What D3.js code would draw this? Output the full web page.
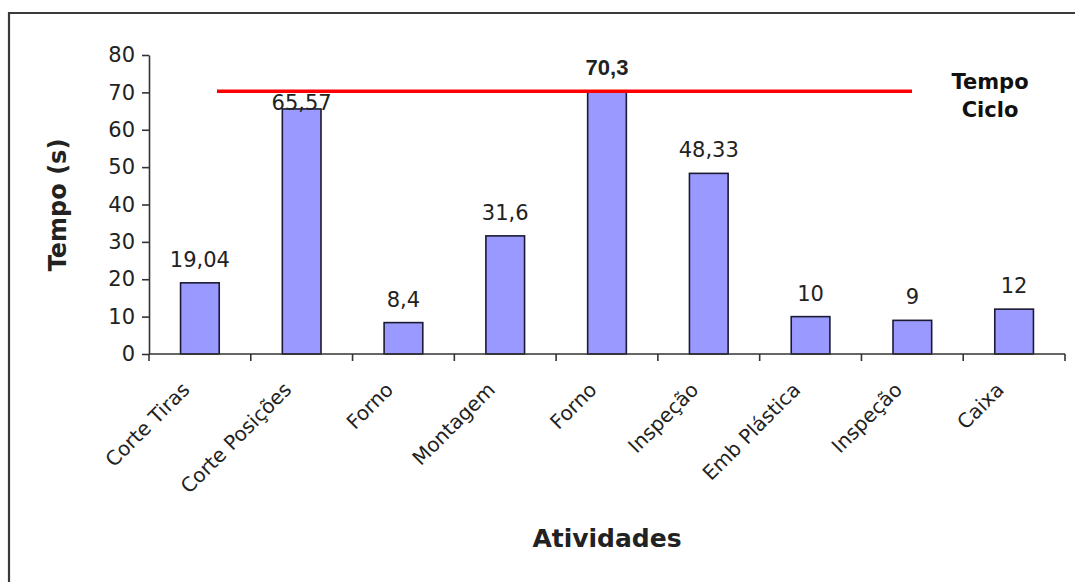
<!DOCTYPE html>
<html>
<head>
<meta charset="utf-8">
<script src="https://cdn.jsdelivr.net/npm/d3@7"></script>
<style>
  html, body { margin: 0; padding: 0; background: #ffffff; }
  svg { display: block; }
</style>
</head>
<body>
<script>
// ---- data ----
const categories = ["Corte Tiras", "Corte Posições", "Forno", "Montagem", "Forno", "Inspeção", "Emb Plástica", "Inspeção", "Caixa"];
const values = [19.04, 65.57, 8.4, 31.6, 70.3, 48.33, 10, 9, 12];
const valueLabels = ["19,04", "65,57", "8,4", "31,6", "70,3", "48,33", "10", "9", "12"];
const yTicks = [0, 10, 20, 30, 40, 50, 60, 70, 80];
const cycleTime = 70.3;
const cycleLabel = ["Tempo", "Ciclo"];
const xTitle = "Atividades";
const yTitle = "Tempo (s)";

// ---- layout ----
const W = 1075, H = 582;
const mLeft = 149, mRight = 1065, mTop = 55, mBottom = 354;
const FONT = "'DejaVu Sans', Verdana, sans-serif";
const TXT = "#222";

const svg = d3.select("body").append("svg").attr("width", W).attr("height", H);
svg.append("rect").attr("width", W).attr("height", H).attr("fill", "#fff");

// chart frame (top and left edges visible)
svg.append("path").attr("d", `M9,${H + 5} L9,13 L${W + 5},13`)
  .attr("fill", "none").attr("stroke", "#3a3a3a").attr("stroke-width", 2.2);

const idx = categories.map((d, i) => i);
const x = d3.scaleBand().domain(idx).range([mLeft, mRight]).paddingInner(0.62).paddingOuter(0.31);
const y = d3.scaleLinear().domain([0, 80]).range([mBottom, mTop]);

// y axis
const yAxis = d3.axisLeft(y).tickValues(yTicks).tickSize(7).tickPadding(7).tickSizeOuter(0);
const gy = svg.append("g").attr("transform", `translate(${mLeft},0)`).call(yAxis);
gy.select(".domain").attr("stroke", "#333").attr("stroke-width", 1.6);
gy.selectAll(".tick line").attr("stroke", "#333").attr("stroke-width", 1.6);
gy.selectAll(".tick text").attr("font-family", FONT).attr("font-size", 21).attr("fill", TXT);

// bars
svg.append("g").selectAll("rect").data(values).join("rect")
  .attr("x", (d, i) => x(i))
  .attr("y", d => y(d))
  .attr("width", x.bandwidth())
  .attr("height", d => y(0) - y(d))
  .attr("fill", "#9999ff")
  .attr("stroke", "#1a1a33")
  .attr("stroke-width", 1.6);

// x axis line and boundary ticks
const tickXs = idx.map(i => x(i) + x.bandwidth() / 2 - x.step() / 2)
  .concat([x(idx[idx.length - 1]) + x.bandwidth() / 2 + x.step() / 2]);
svg.append("line").attr("x1", mLeft).attr("x2", mRight).attr("y1", y(0)).attr("y2", y(0))
  .attr("stroke", "#333").attr("stroke-width", 1.6);
svg.append("g").selectAll("line").data(tickXs).join("line")
  .attr("x1", d => d).attr("x2", d => d).attr("y1", y(0)).attr("y2", y(0) + 7)
  .attr("stroke", "#333").attr("stroke-width", 1.6);

// category labels (rotated)
svg.append("g").selectAll("text").data(categories).join("text")
  .attr("transform", (d, i) => `translate(${x(i) + x.bandwidth() / 2 - 9},${y(0) + 37}) rotate(-45)`)
  .attr("text-anchor", "end")
  .attr("font-family", FONT).attr("font-size", 20).attr("fill", TXT)
  .text(d => d);

// cycle time line
const cycleY = y(cycleTime);
svg.append("line")
  .attr("x1", 217).attr("x2", 912)
  .attr("y1", cycleY).attr("y2", cycleY)
  .attr("stroke", "#ff0000").attr("stroke-width", 3.5);

// value labels
const maxVal = d3.max(values);
svg.append("g").selectAll("text").data(values).join("text")
  .attr("x", (d, i) => x(i) + x.bandwidth() / 2)
  .attr("y", d => d === maxVal ? y(d) - 16 : Math.max(y(d) - 16, cycleY + 19))
  .attr("text-anchor", "middle")
  .attr("font-family", d => d === maxVal ? "'Liberation Sans', Arial, sans-serif" : FONT)
  .attr("font-weight", d => d === maxVal ? "bold" : "normal")
  .attr("font-size", d => d === maxVal ? 22 : 21)
  .attr("fill", TXT)
  .text((d, i) => valueLabels[i]);

// cycle label
svg.append("g").selectAll("text").data(cycleLabel).join("text")
  .attr("x", 990).attr("y", (d, i) => 89 + i * 28)
  .attr("text-anchor", "middle")
  .attr("font-family", FONT).attr("font-weight", "bold").attr("font-size", 21).attr("fill", "#111")
  .text(d => d);

// axis titles
svg.append("text")
  .attr("x", (mLeft + mRight) / 2).attr("y", 547)
  .attr("text-anchor", "middle")
  .attr("font-family", FONT).attr("font-weight", "bold").attr("font-size", 25).attr("fill", TXT)
  .text(xTitle);

svg.append("text")
  .attr("transform", `translate(66,205) rotate(-90)`)
  .attr("text-anchor", "middle")
  .attr("font-family", FONT).attr("font-weight", "bold").attr("font-size", 24).attr("fill", TXT)
  .text(yTitle);
</script>
</body>
</html>
